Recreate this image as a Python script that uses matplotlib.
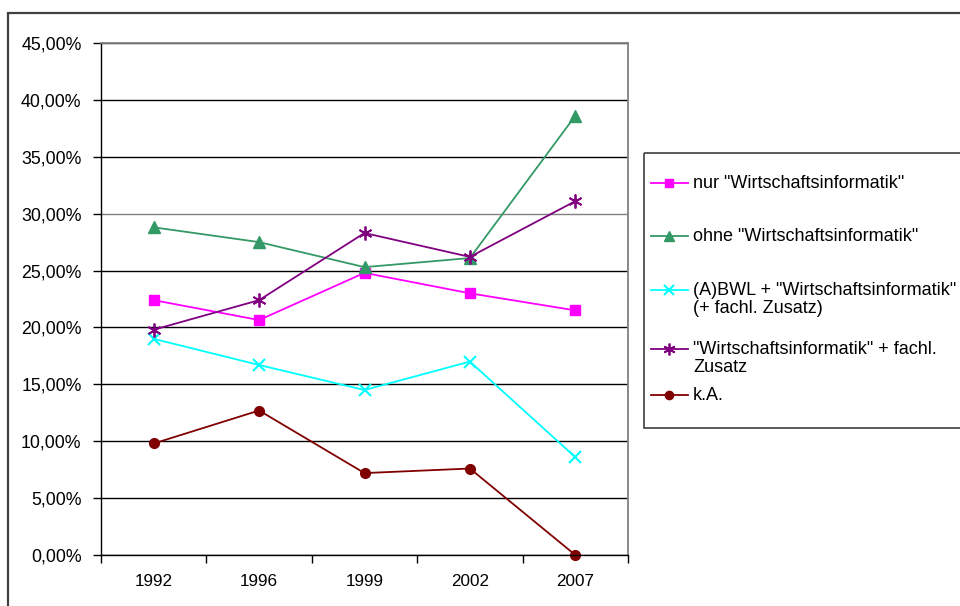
import matplotlib.pyplot as plt
from matplotlib.lines import Line2D
from matplotlib.patches import Rectangle
from matplotlib.ticker import FuncFormatter, MultipleLocator

plt.rcParams['font.family'] = ['Liberation Sans', 'DejaVu Sans']

years = ["1992", "1996", "1999", "2002", "2007"]
nur_wi = [22.4, 20.65, 24.8, 23.0, 21.5]
ohne_wi = [28.8, 27.5, 25.3, 26.1, 38.6]
bwl_wi = [19.0, 16.7, 14.5, 17.0, 8.6]
wi_zusatz = [19.8, 22.4, 28.3, 26.2, 31.1]
ka = [9.8, 12.7, 7.2, 7.6, 0.0]

series = [
    ('nur "Wirtschaftsinformatik"', nur_wi, "#FF00FF", "s", 7, 1),
    ('ohne "Wirtschaftsinformatik"', ohne_wi, "#339966", "^", 8, 1),
    ('(A)BWL + "Wirtschaftsinformatik"\n(+ fachl. Zusatz)', bwl_wi, "#00FFFF", "x", 8, 1.5),
    ('"Wirtschaftsinformatik" + fachl.\nZusatz', wi_zusatz, "#800080", (6, 2, 0), 10, 1.3),
    ("k.A.", ka, "#800000", "o", 7, 1),
]

fig = plt.figure(figsize=(9.6, 6.06), dpi=100)

# outer chart border (runs off the right and bottom edge)
fig.patches.append(Rectangle((8 / 960, -0.05), 1.0, 1 - 13 / 606 + 0.05,
                             transform=fig.transFigure, fill=False,
                             edgecolor="#404040", linewidth=1.6))

ax = fig.add_axes([101 / 960, 1 - 555 / 606, 527 / 960, 512 / 606])
x = range(len(years))
for label, vals, color, marker, ms, mew in series:
    ax.plot(x, vals, color=color, marker=marker, markersize=ms,
            markeredgewidth=mew, linewidth=1.3, label=label, clip_on=False)

ax.set_xlim(-0.5, len(years) - 0.5)
ax.set_ylim(0, 45)
ax.yaxis.set_major_locator(MultipleLocator(5))
ax.yaxis.set_major_formatter(FuncFormatter(lambda v, p: f"{v:.2f}%".replace(".", ",")))
ax.set_xticks(list(x))
ax.set_xticklabels(years)
ax.set_xticks([i - 0.5 for i in range(len(years) + 1)], minor=True)
ax.tick_params(axis="x", which="major", length=0, pad=14, labelsize=12.3)
ax.tick_params(axis="x", which="minor", length=6, direction="out", width=1)
ax.tick_params(axis="y", length=6, direction="out", width=1, labelsize=12.8, pad=8)

ax.yaxis.grid(True, color="black", linewidth=1)
ax.set_axisbelow(True)
for gl, v in zip(ax.get_ygridlines(), ax.get_yticks()):
    if abs(v - 30) < 0.01:
        gl.set_color("#808080")
for side in ["top", "right"]:
    ax.spines[side].set_color("#808080")
    ax.spines[side].set_linewidth(1.3)
for side in ["left", "bottom"]:
    ax.spines[side].set_color("black")
    ax.spines[side].set_linewidth(1)

# legend box, drawn in pixel coordinates like the Excel legend
lg = fig.add_axes([0, 0, 1, 1], facecolor="none")
lg.set_xlim(0, 960)
lg.set_ylim(606, 0)
lg.axis("off")
lg.add_patch(Rectangle((644, 153), 330, 275, fill=False, edgecolor="#404040", linewidth=1.2, clip_on=False))
rows = [183, 236, 290, 349, 395]
for (label, vals, color, marker, ms, mew), y in zip(series, rows):
    lg.add_line(Line2D([651, 688], [y, y], color=color, linewidth=1.3))
    lg.add_line(Line2D([669], [y], color=color, marker=marker, markersize=ms * 0.85, markeredgewidth=mew))
    lg.text(693, y - 8, label, fontsize=13, va="top", ha="left", linespacing=1.05, clip_on=False)

fig.savefig("out.png", dpi=100)
